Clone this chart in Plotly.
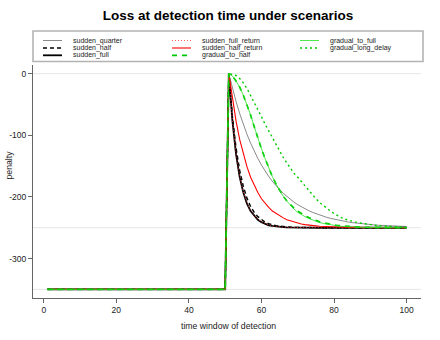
import plotly.graph_objects as go

# ---------------- data ----------------
time_window = list(range(1, 101))
pre_level = -350          # penalty before the detection point (x = 1..50)
pre_count = 50

sudden_quarter_post = [0, -23.8, -45.3, -64.8, -82.4, -98.4, -112.8, -125.9, -137.7, -148.4,
                       -158.0, -166.8, -174.7, -181.9, -188.4, -194.2, -199.5, -204.3, -208.7, -212.6,
                       -216.2, -219.4, -222.3, -224.9, -227.3, -229.5, -231.4, -233.2, -234.8, -236.2,
                       -237.6, -238.7, -239.8, -240.8, -241.7, -242.5, -243.2, -243.8, -244.4, -244.9,
                       -245.4, -245.9, -246.3, -246.6, -246.9, -247.2, -247.5, -247.7, -248.0, -248.1]
sudden_half_post = [0, -70, -121, -157, -183, -202, -215.5, -225, -232, -237,
                    -241, -243.4, -245.2, -246.6, -247.5, -248.2, -248.7, -249.1, -249.3, -249.5,
                    -249.7, -249.7, -249.8, -249.9, -250, -250, -250, -250, -250, -250,
                    -250, -250, -250, -250, -250, -250, -250, -250, -250, -250,
                    -250, -250, -250, -250, -250, -250, -250, -250, -250, -250]
sudden_full_post = [0, -77, -131, -168, -193, -211, -223, -231, -237, -241,
                    -244, -246, -247, -248, -248.6, -249, -249.3, -249.5, -249.7, -249.8,
                    -249.9, -250, -250, -250, -250, -250, -250, -250, -250, -250,
                    -250, -250, -250, -250, -250, -250, -250, -250, -250, -250,
                    -250, -250, -250, -250, -250, -250, -250, -250, -250, -250]
sudden_full_return_post = [0, -76, -130, -167, -192, -210, -222.5, -230.5, -236.5, -240.5,
                           -243.5, -245.5, -247, -248, -248.6, -249, -249.3, -249.5, -249.7, -249.8,
                           -249.9, -250, -250, -250, -250, -250, -250, -250, -250, -250,
                           -250, -250, -250, -250, -250, -250, -250, -250, -250, -250,
                           -250, -250, -250, -250, -250, -250, -250, -250, -250, -250]
sudden_half_return_post = [0, -42, -77, -107, -131, -151, -168, -182, -193, -203,
                           -211, -217, -223, -227, -231, -234, -237, -239, -241, -243,
                           -244, -245, -246, -246.5, -247, -247.6, -248, -248.3, -248.6, -248.8,
                           -249, -249.2, -249.3, -249.4, -249.5, -249.6, -249.7, -249.7, -249.8, -249.8,
                           -249.9, -249.9, -249.9, -249.9, -249.9, -250, -250, -250, -250, -250]
gradual_to_half_post = [0, -4, -12, -22, -35, -50, -67, -86, -105, -122,
                        -138, -153, -167, -179, -190, -199, -206.5, -213, -218.5, -223,
                        -227, -230.5, -233.5, -236, -238.5, -240.5, -242, -243.5, -244.7, -245.6,
                        -246.4, -247, -247.5, -248, -248.4, -248.7, -249, -249.2, -249.4, -249.5,
                        -249.6, -249.7, -249.8, -249.8, -249.9, -249.9, -250, -250, -250, -250]
gradual_to_full_post = [0, -4, -12, -22, -35, -50, -67, -86, -105, -122,
                        -138, -153, -167, -179, -190, -199, -207, -214, -220, -225,
                        -229, -232, -235, -237.5, -240, -241.5, -243, -244.3, -245.5, -246.3,
                        -247, -247.6, -248.1, -248.5, -248.8, -249.1, -249.3, -249.5, -249.6, -249.7,
                        -249.8, -249.8, -249.9, -250, -250, -250, -250, -250, -250, -250]
gradual_long_delay_post = [0, -1, -3, -8, -15, -24, -35, -47, -59, -70,
                           -82, -93, -105, -116, -126, -136, -145, -154, -162, -168,
                           -175, -183, -190, -196, -203, -209, -214, -219, -223, -227,
                           -230.5, -233.5, -236, -238, -239.5, -241, -242.2, -243.3, -244.2, -245,
                           -245.8, -246.5, -247, -247.5, -248, -248.4, -248.7, -249, -249.2, -249.4]

series_names = ["sudden_quarter", "sudden_half", "sudden_full",
                "sudden_full_return", "sudden_half_return", "gradual_to_half",
                "gradual_to_full", "gradual_long_delay"]
series_post = [sudden_quarter_post, sudden_half_post, sudden_full_post,
               sudden_full_return_post, sudden_half_return_post, gradual_to_half_post,
               gradual_to_full_post, gradual_long_delay_post]

ref_lines = [0, -250, -350]
x_ticks = [0, 20, 40, 60, 80, 100]
y_ticks = [0, -100, -200, -300]
y_tick_labels = ["0", "-100", "-200", "-300"]

# ---------------- styles ----------------
styles = {
    "sudden_quarter":     dict(color="#3a3a3a", width=0.6, dash="solid"),
    "sudden_half":        dict(color="#000000", width=1.4, dash="4px,3px"),
    "sudden_full":        dict(color="#000000", width=1.8, dash="solid"),
    "sudden_full_return": dict(color="#ff3030", width=0.8, dash="1px,2px"),
    "sudden_half_return": dict(color="#ff0000", width=1.1, dash="solid"),
    "gradual_to_half":    dict(color="#00c800", width=1.7, dash="5px,5px"),
    "gradual_to_full":    dict(color="#22e022", width=0.8, dash="solid"),
    "gradual_long_delay": dict(color="#00cc00", width=1.4, dash="2px,3px"),
}

W, H = 440, 340
ML, MR, MT, MB = 33, 19, 65, 42
PW, PH = W - ML - MR, H - MT - MB


def px2x(px):
    return (px - ML) / PW


def py2y(py):
    return (H - MB - py) / PH


shapes = []
annotations = []

# light reference lines (drawn below the data)
for v in ref_lines:
    shapes.append(dict(type="line", xref="paper", yref="y", x0=0, x1=1, y0=v, y1=v,
                       line=dict(color="#e6e6e6", width=1), layer="below"))

fig = go.Figure()
for name, post in zip(series_names, series_post):
    y = [pre_level] * pre_count + post
    fig.add_trace(go.Scatter(x=time_window, y=y, mode="lines", name=name,
                             line=styles[name], showlegend=False, hoverinfo="skip"))

# ---------------- manual legend (R-style, column-major) ----------------
shapes.append(dict(type="rect", xref="paper", yref="paper",
                   x0=px2x(33), x1=px2x(423), y0=py2y(61.5), y1=py2y(31),
                   line=dict(color="#b3b3b3", width=1.6), fillcolor="rgba(0,0,0,0)"))
col_line_px = [(43, 62), (172, 191), (300, 319)]
col_text_px = [71, 199.5, 328]
row_py = [40.5, 48, 55.3]
for i, name in enumerate(series_names):
    c, r = divmod(i, 3)
    st = styles[name]
    shapes.append(dict(type="line", xref="paper", yref="paper",
                       x0=px2x(col_line_px[c][0]), x1=px2x(col_line_px[c][1]),
                       y0=py2y(row_py[r]), y1=py2y(row_py[r]),
                       line=dict(color=st["color"], width=st["width"], dash=st["dash"])))
    annotations.append(dict(xref="paper", yref="paper", x=px2x(col_text_px[c]), y=py2y(row_py[r]),
                            text=name, showarrow=False, xanchor="left", yanchor="middle",
                            font=dict(size=7, color="#222")))

annotations.append(dict(xref="paper", yref="paper", x=px2x(228), y=py2y(326),
                        text="time window of detection", showarrow=False,
                        xanchor="center", yanchor="middle", font=dict(size=8.7, color="#222")))
annotations.append(dict(xref="paper", yref="paper", x=px2x(8.5), y=py2y(165),
                        text="penalty", showarrow=False, textangle=-90,
                        xanchor="center", yanchor="middle", font=dict(size=8.7, color="#222")))

fig.update_layout(
    width=W, height=H,
    margin=dict(l=ML, r=MR, t=MT, b=MB, pad=0),
    paper_bgcolor="white", plot_bgcolor="white",
    font=dict(family="Liberation Sans, Arial, sans-serif", color="#222"),
    title=dict(text="<b>Loss at detection time under scenarios</b>",
               x=228 / W, xanchor="center", y=1 - 15.5 / H, yanchor="middle",
               xref="container", yref="container",
               font=dict(size=13.5, color="#000")),
    showlegend=False,
    hovermode=False,
    shapes=shapes,
    annotations=annotations,
)
fig.update_xaxes(range=[-2.96, 103.96], tickvals=x_ticks, ticks="outside", ticklen=4,
                 tickcolor="#666", showline=True, linecolor="#666", linewidth=1,
                 showgrid=False, zeroline=False, automargin=False,
                 tickfont=dict(size=8.5, color="#222"))
fig.update_yaxes(range=[-364, 14], tickvals=y_ticks, ticktext=y_tick_labels, ticks="outside",
                 ticklen=4, tickcolor="#666", showline=True, linecolor="#666", linewidth=1,
                 showgrid=False, zeroline=False, automargin=False,
                 tickfont=dict(size=8.5, color="#222"))

fig.write_html("out.html",
               config={"displayModeBar": False, "staticPlot": True},
               post_script="document.body.style.margin='0';document.body.style.padding='0';")
